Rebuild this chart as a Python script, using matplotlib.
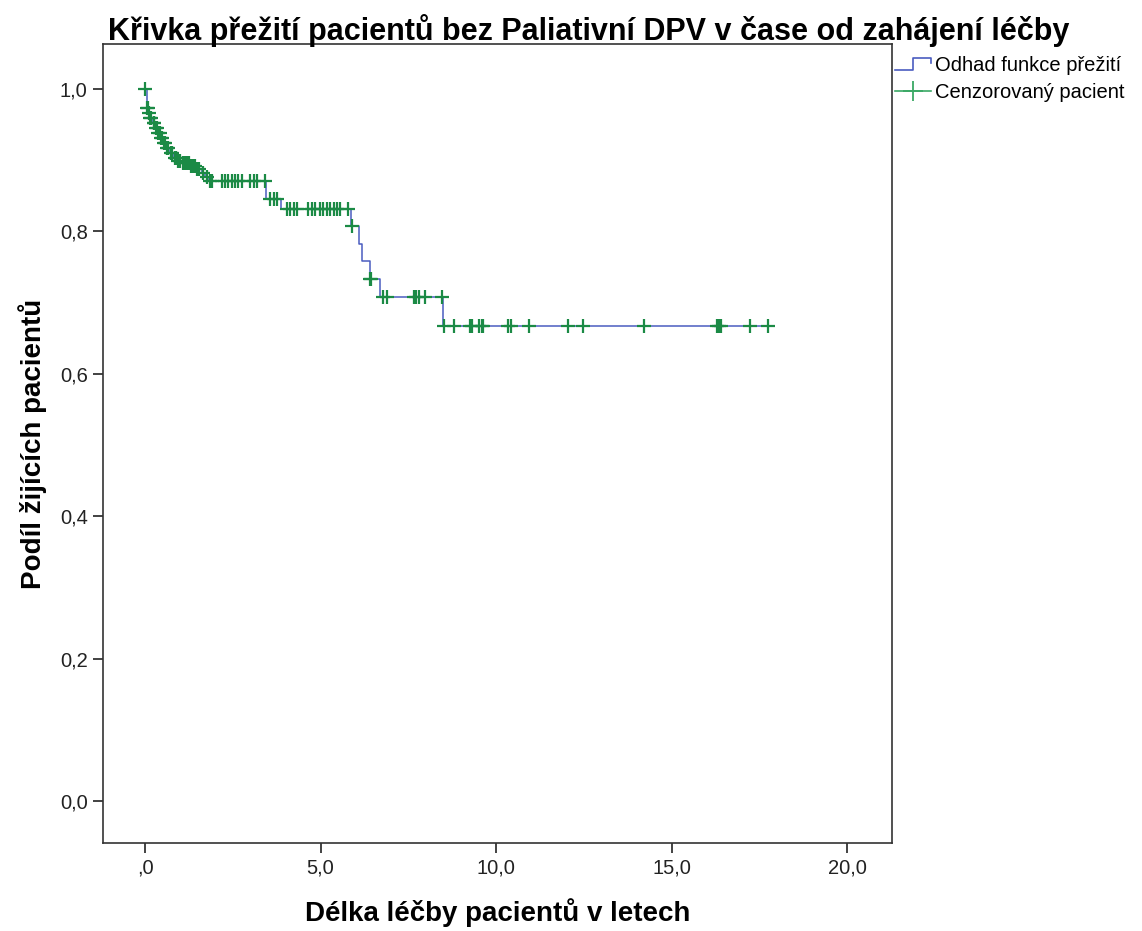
import numpy as np
import matplotlib
matplotlib.use("Agg")
import matplotlib.pyplot as plt
from matplotlib.lines import Line2D
from matplotlib.legend_handler import HandlerBase

plt.rcParams['font.family'] = ['Liberation Sans', 'DejaVu Sans']

# udalosti (cas v letech, odhad preziti po udalosti)
event_t = [0.05, 0.09, 0.13, 0.20, 0.28, 0.36, 0.43, 0.50, 0.60, 0.70, 0.80, 0.92,
           1.05, 1.25, 1.45, 1.62, 1.72, 1.80, 3.45, 3.88, 5.88, 6.08, 6.18, 6.40, 6.70, 8.50]
event_s = [0.973, 0.966, 0.959, 0.952, 0.945, 0.938, 0.931, 0.924, 0.917, 0.910, 0.903, 0.899,
           0.896, 0.892, 0.888, 0.882, 0.876, 0.870, 0.846, 0.831, 0.807, 0.782, 0.758, 0.733,
           0.708, 0.667]

# cenzorovani pacienti (cas v letech)
censor_t = [0.0, 0.06, 0.08, 0.11, 0.15, 0.17, 0.24, 0.26, 0.30, 0.33, 0.38, 0.41, 0.45, 0.47,
            0.53, 0.56, 0.63, 0.66, 0.74, 0.77, 0.85, 0.88, 0.95, 1.00, 1.08, 1.13, 1.18, 1.24,
            1.30, 1.36, 1.42, 1.48, 1.54, 1.66, 1.75,
            1.85, 1.90, 2.18, 2.28, 2.37, 2.47, 2.56, 2.66, 2.75, 2.99, 3.09, 3.18, 3.42,
            3.56, 3.66, 3.75,
            4.04, 4.13, 4.23, 4.32, 4.65, 4.75, 4.84, 4.99, 5.08, 5.18, 5.27, 5.37, 5.46, 5.56, 5.79,
            5.90, 6.42, 6.45,
            6.78, 6.88, 7.65, 7.72, 7.80, 7.98, 8.45,
            8.52, 8.81, 9.26, 9.31, 9.52, 9.59, 9.64, 10.35, 10.42, 10.95, 12.06, 12.47, 14.20,
            16.29, 16.35, 16.41, 17.24, 17.75]

x_ticks = [0, 5, 10, 15, 20]
x_labels = [',0', '5,0', '10,0', '15,0', '20,0']
y_ticks = [0.0, 0.2, 0.4, 0.6, 0.8, 1.0]
y_labels = ['0,0', '0,2', '0,4', '0,6', '0,8', '1,0']

line_col = '#4a5cc0'
cens_col = '#1b8a45'


class StepHandler(HandlerBase):
    def create_artists(self, legend, orig_handle, xdescent, ydescent, width, height, fontsize, trans):
        x = np.array([0.0, 0.5, 0.5, 1.0, 1.0]) * width - xdescent
        y = np.array([0.05, 0.05, 0.95, 0.95, 0.55]) * height - ydescent
        return [Line2D(x, y, color=orig_handle.get_color(), lw=1.2, transform=trans)]


fig = plt.figure(figsize=(11.42, 9.31), dpi=100)
ax = fig.add_axes([103 / 1142, 1 - 843 / 931, (892 - 103) / 1142, (843 - 44) / 931])

# schodovita krivka Kaplan-Meier
et = np.array(event_t)
es = np.array(event_s)
ct = np.array(censor_t)
step_x = np.r_[0.0, et, ct.max()]
step_y = np.r_[1.0, es, es[-1]]
ax.step(step_x, step_y, where='post', color=line_col, lw=1.1, zorder=2)

idx = np.searchsorted(et, ct, side='right')
cs = np.r_[1.0, es][idx]
ax.plot(ct, cs, ls='none', marker='+', color=cens_col, ms=10, mew=1.6, zorder=3)

ax.set_xlim(-1.2, 21.28)
ax.set_ylim(-0.059, 1.063)
ax.set_xticks(x_ticks)
ax.set_xticklabels(x_labels)
ax.set_yticks(y_ticks)
ax.set_yticklabels(y_labels)
ax.tick_params(direction='out', length=7, width=1.2, labelsize=14.5, colors='#222222', pad=4)
for sp in ax.spines.values():
    sp.set_linewidth(1.2)
    sp.set_color('#333333')

fig.text(589 / 1142, 1 - 31 / 931,
         'Křivka přežití pacientů bez Paliativní DPV v čase od zahájení léčby',
         fontsize=22, fontweight='bold', ha='center', va='center')
ax.set_xlabel('Délka léčby pacientů v letech', fontsize=20, fontweight='bold', labelpad=15)
ax.set_ylabel('Podíl žijících pacientů', fontsize=20, fontweight='bold', labelpad=9)

h1 = Line2D([], [], color=line_col)
h2 = Line2D([], [], color='#3aa865', marker='+', ms=14, mew=1.3, lw=1.2)
fig.legend([h1, h2], ['Odhad funkce přežití', 'Cenzorovaný pacient'],
           handler_map={h1: StepHandler()},
           loc='upper left', bbox_to_anchor=(895 / 1142, 1 - 56 / 931),
           frameon=False, fontsize=14.5, handlelength=1.8, handletextpad=0.2,
           borderpad=0, borderaxespad=0, labelspacing=0.4)

fig.savefig('out.png', dpi=100)
